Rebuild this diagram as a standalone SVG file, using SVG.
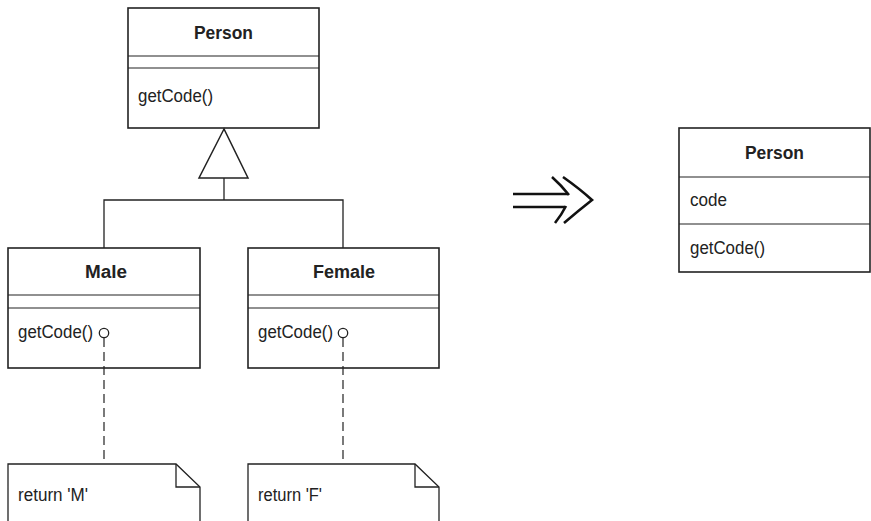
<svg xmlns="http://www.w3.org/2000/svg" width="871" height="521" viewBox="0 0 871 521">
<style>
.box{fill:#fff;stroke:#222;stroke-width:1.6}
.sep{stroke:#222;stroke-width:1.2}
.t{font-family:"Liberation Sans",Arial,sans-serif;font-size:18px;fill:#222}
.b{font-weight:bold;text-anchor:middle}
.ln{fill:none;stroke:#222;stroke-width:1.3}
.dash{fill:none;stroke:#222;stroke-width:1.2;stroke-dasharray:9,5}
.arr{fill:none;stroke:#111;stroke-width:2.6}
.pin{fill:#fff;stroke:#222;stroke-width:1.3}
</style>
<rect width="871" height="521" fill="#fff"/>
<g id="person">
  <rect class="box" x="128" y="8" width="191" height="120"/>
  <line class="sep" x1="128" y1="56" x2="319" y2="56"/>
  <line class="sep" x1="128" y1="68" x2="319" y2="68"/>
  <text class="t b" x="223.5" y="39" textLength="59" lengthAdjust="spacingAndGlyphs">Person</text>
  <text class="t" x="138" y="102" textLength="75" lengthAdjust="spacingAndGlyphs">getCode()</text>
</g>
<g id="male">
  <rect class="box" x="8" y="248" width="192" height="120"/>
  <line class="sep" x1="8" y1="295" x2="200" y2="295"/>
  <line class="sep" x1="8" y1="308" x2="200" y2="308"/>
  <text class="t b" x="106" y="278" textLength="42" lengthAdjust="spacingAndGlyphs">Male</text>
  <text class="t" x="18" y="338" textLength="75" lengthAdjust="spacingAndGlyphs">getCode()</text>
</g>
<g id="female">
  <rect class="box" x="248" y="248" width="191" height="120"/>
  <line class="sep" x1="248" y1="295" x2="439" y2="295"/>
  <line class="sep" x1="248" y1="308" x2="439" y2="308"/>
  <text class="t b" x="344" y="278" textLength="62" lengthAdjust="spacingAndGlyphs">Female</text>
  <text class="t" x="258" y="338" textLength="75" lengthAdjust="spacingAndGlyphs">getCode()</text>
</g>
<g id="noteM">
  <path class="ln" d="M8,530 L8,464 L176,464 L200,487 L200,530"/>
  <path class="ln" d="M176,464 L176,487 L200,487"/>
  <text class="t" x="18" y="501" textLength="70" lengthAdjust="spacingAndGlyphs">return 'M'</text>
</g>
<g id="noteF">
  <path class="ln" d="M248,530 L248,464 L415,464 L439,487 L439,530"/>
  <path class="ln" d="M415,464 L415,487 L439,487"/>
  <text class="t" x="258" y="501" textLength="64" lengthAdjust="spacingAndGlyphs">return 'F'</text>
</g>
<g id="person2">
  <rect class="box" x="679" y="128" width="191" height="144"/>
  <line class="sep" x1="679" y1="177" x2="870" y2="177"/>
  <line class="sep" x1="679" y1="224" x2="870" y2="224"/>
  <text class="t b" x="774.5" y="159" textLength="59" lengthAdjust="spacingAndGlyphs">Person</text>
  <text class="t" x="690" y="206" textLength="37" lengthAdjust="spacingAndGlyphs">code</text>
  <text class="t" x="690" y="254" textLength="75" lengthAdjust="spacingAndGlyphs">getCode()</text>
</g>
<g id="connectors">
  <polyline class="ln" points="104,248 104,200 343,200 343,248"/>
  <line class="ln" x1="224" y1="178" x2="224" y2="200" stroke-width="2"/>
  <polygon points="224,129 199,178 248,178" fill="#fff" stroke="#222" stroke-width="1.5"/>
  <line class="dash" x1="104" y1="338" x2="104" y2="464"/>
  <line class="dash" x1="343" y1="338" x2="343" y2="464"/>
  <circle class="pin" cx="104" cy="333" r="4.7"/>
  <circle class="pin" cx="343" cy="333" r="4.7"/>
</g>
<g id="arrow">
  <line class="arr" x1="513" y1="194" x2="568" y2="194"/>
  <line class="arr" x1="513" y1="207" x2="565" y2="207"/>
  <path class="arr" d="M552,177 Q561,185 569,195"/>
  <path class="arr" d="M566,206 Q562,214 555,223"/>
  <path class="arr" d="M563,177 Q580,189 592,200 Q578,211 564,223"/>
</g>
</svg>
